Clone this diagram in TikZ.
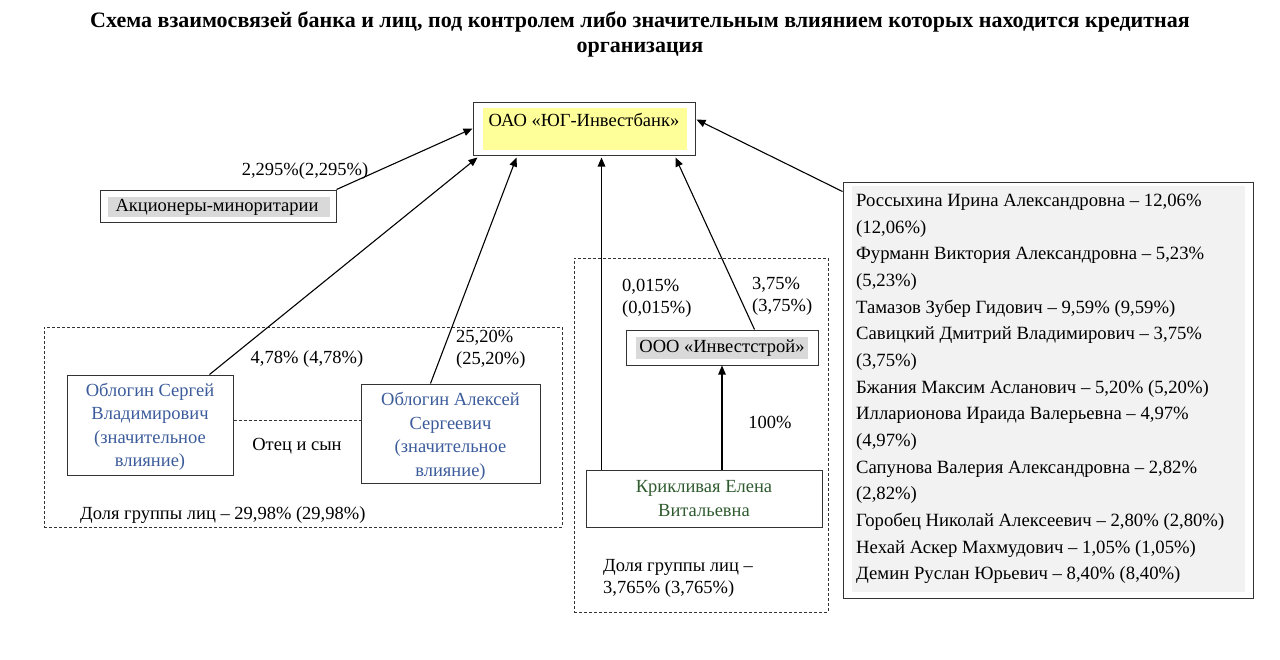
\documentclass[tikz,border=0pt]{standalone}
\usepackage{fontspec}
\setmainfont{Liberation Serif}
\usetikzlibrary{arrows.meta,calc}
\definecolor{hlyellow}{HTML}{FFFF99}
\definecolor{hlgray}{HTML}{D9D9D9}
\definecolor{hllight}{HTML}{F2F2F2}
\definecolor{nameblue}{HTML}{3B5B9B}
\definecolor{namegreen}{HTML}{2E5A2E}
\tikzset{
  box/.style={draw=black!80, line width=1pt, inner sep=0pt},
  grp/.style={draw=black!80, line width=0.8pt, dash pattern=on 3pt off 2pt},
  txt/.style={font=\fontsize{18.5}{23.5}\selectfont, inner sep=0pt, align=center},
  ltxt/.style={font=\fontsize{18.5}{22}\selectfont, inner sep=0pt, align=left},
  arr/.style={line width=1.1pt, -{Triangle[length=9pt,width=7.5pt]}},
}
\begin{document}
\begin{tikzpicture}[x=1pt,y=-1pt]
\useasboundingbox (0,0) rectangle (1280,659);
% title
\node[font=\bfseries\fontsize{22}{25}\selectfont, align=center, inner sep=0pt] (title) at (640,34)
  {Схема взаимосвязей банка и лиц, под контролем либо значительным влиянием которых находится кредитная\\организация};
% bank
\node[box, minimum width=222pt, minimum height=53pt] (bank) at (584,128.5) {};
\fill[hlyellow] (483,108) rectangle (687,150);
\node[txt] (banktxt) at (584,120) {ОАО «ЮГ-Инвестбанк»};
% minority
\node[box, minimum width=236pt, minimum height=32pt] (mino) at (218,206) {};
\fill[hlgray] (108,197) rectangle (330,217);
\node[txt] (minotxt) at (217,207) {Акционеры-миноритарии};
\node[txt] (l2295) at (305,171) {2,295\%(2,295\%)};
% left group
\node[grp, minimum width=518pt, minimum height=200pt] (grpL) at (303,427) {};
\node[box, minimum width=166pt, minimum height=100pt] (serg) at (150,425) {};
\node[txt, text=nameblue] (sergtxt) at (150,427)
  {Облогин Сергей\\Владимирович\\(значительное\\влияние)};
\node[box, minimum width=179pt, minimum height=99pt] (alex) at (450.5,433.5) {};
\node[txt, text=nameblue] (alextxt) at (450.5,436.5)
  {Облогин Алексей\\Сергеевич\\(значительное\\влияние)};
\draw[grp] (serg.east |- 0,420) -- (alex.west |- 0,420);
\node[txt] (otec) at (297,446) {Отец и сын};
\node[ltxt, anchor=west] (dolyaL) at (80,515) {Доля группы лиц – 29,98\% (29,98\%)};
\node[txt] (l478) at (307,359) {4,78\% (4,78\%)};
\node[ltxt, anchor=north west] (l2520) at (456,330) {25,20\%\\(25,20\%)};
% middle group
\node[grp, minimum width=254pt, minimum height=354pt] (grpM) at (701,435) {};
\node[box, minimum width=236pt, minimum height=57pt, txt, text=namegreen] (krik) at (704,498.5)
  {Крикливая Елена\\Витальевна};
\node[box, minimum width=192pt, minimum height=35pt] (inv) at (722,347.5) {};
\fill[hlgray] (636,337) rectangle (808,359);
\node[txt] (invtxt) at (722,348) {ООО «Инвестстрой»};
\node[txt] (l100) at (770,422) {100\%};
\node[ltxt, anchor=north west] (l0015) at (622,279) {0,015\%\\(0,015\%)};
\node[ltxt, anchor=north west] (l375) at (752,277) {3,75\%\\(3,75\%)};
\node[ltxt, anchor=north west] (dolyaM) at (603,559) {Доля группы лиц –\\3,765\% (3,765\%)};
% right list
\node[box, minimum width=410pt, minimum height=416pt] (list) at (1048,390) {};
\fill[hllight] (852,186) rectangle (1245,592);
\node[anchor=north west, inner sep=0pt, align=left, font=\fontsize{18.7}{26.65}\selectfont] (listtxt) at (856,194)
  {Россыхина Ирина Александровна – 12,06\%\\
   (12,06\%)\\
   Фурманн Виктория Александровна – 5,23\%\\
   (5,23\%)\\
   Тамазов Зубер Гидович – 9,59\% (9,59\%)\\
   Савицкий Дмитрий Владимирович – 3,75\%\\
   (3,75\%)\\
   Бжания Максим Асланович – 5,20\% (5,20\%)\\
   Илларионова Ираида Валерьевна – 4,97\%\\
   (4,97\%)\\
   Сапунова Валерия Александровна – 2,82\%\\
   (2,82\%)\\
   Горобец Николай Алексеевич – 2,80\% (2,80\%)\\
   Нехай Аскер Махмудович – 1,05\% (1,05\%)\\
   Демин Руслан Юрьевич – 8,40\% (8,40\%)};
% connectors
\coordinate (kv) at ($(krik.north west)+(16,0)$);
\draw[arr] (mino.north east) -- (bank.west);
\draw[arr] ($(serg.north west)+(143,0)$) -- ($(bank.south west)+(5,2)$);
\draw[arr] ($(alex.north west)+(70,0)$) -- ($(bank.south west)+(44,2)$);
\draw[arr] (kv) -- ($(kv |- bank.south)+(0,2)$);
\draw[arr] ($(inv.north west)+(129,0)$) -- ($(bank.south west)+(203,2)$);
\draw[arr] (krik.north -| inv.south) -- (inv.south);
\draw[arr] ($(list.north west)+(0,10)$) -- ($(bank.east)+(1,-9)$);
\end{tikzpicture}
\end{document}
